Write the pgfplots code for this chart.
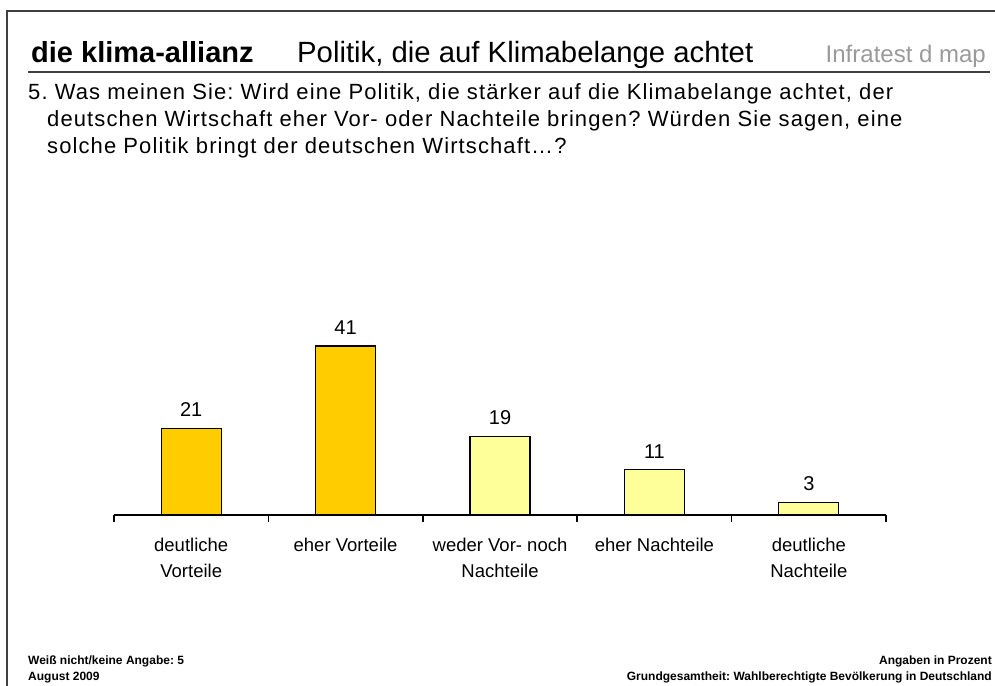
\documentclass[border=0pt]{standalone}
\usepackage{pgfplots}
\pgfplotsset{compat=1.18}
\usepackage{fontspec}
\setmainfont{Liberation Sans}
\frenchspacing
\definecolor{gold}{HTML}{FFCC00}
\definecolor{lightyel}{HTML}{FFFF99}
\definecolor{framegray}{HTML}{404040}
\definecolor{infragray}{HTML}{9A9A9A}
\newfontfamily\qfont[LetterSpace=5]{Liberation Sans}
\pgfplotstableread{
x y
0 21
1 41
}\darkdata
\pgfplotstableread{
x y
2 19
3 11
4 3
}\lightdata
\begin{document}
\begin{tikzpicture}[x=1bp,y=1bp]
\clip (0,0) rectangle (995,686);
\fill[white] (0,0) rectangle (995,686);
% frame
\draw[framegray, line width=2bp] (7,-5) -- (7,675) -- (1000,675);
% header
\node[anchor=base west, inner sep=0, font=\fontsize{29bp}{32bp}\selectfont\bfseries] at (31,623) {die klima-allianz};
\node[anchor=base west, inner sep=0, font=\fontsize{29.3bp}{32bp}\selectfont] at (297,623) {Politik, die auf Klimabelange achtet};
\node[anchor=base east, inner sep=0, text=infragray, font=\fontsize{24bp}{28bp}\selectfont] at (986,623) {Infratest d map};
\draw[framegray, line width=2bp] (28,614) -- (990,614);
% question
\node[anchor=base west, inner sep=0, font=\fontsize{22bp}{27bp}\qfont] at (28,586) {5. Was meinen Sie: Wird eine Politik, die stärker auf die Klimabelange achtet, der};
\node[anchor=base west, inner sep=0, font=\fontsize{22bp}{27bp}\qfont] at (47,559) {deutschen Wirtschaft eher Vor- oder Nachteile bringen? Würden Sie sagen, eine};
\node[anchor=base west, inner sep=0, font=\fontsize{22bp}{27bp}\qfont] at (47,532) {solche Politik bringt der deutschen Wirtschaft…?};
% footer
\node[anchor=base west, inner sep=0, font=\fontsize{12bp}{13bp}\selectfont\bfseries] at (28,21) {Weiß nicht/keine Angabe: 5};
\node[anchor=base west, inner sep=0, font=\fontsize{12bp}{13bp}\selectfont\bfseries] at (28,5) {August 2009};
\node[anchor=base east, inner sep=0, font=\fontsize{12bp}{13bp}\selectfont\bfseries] at (992,21) {Angaben in Prozent};
\node[anchor=base east, inner sep=0, font=\fontsize{12bp}{13bp}\selectfont\bfseries] at (992,5) {Grundgesamtheit: Wahlberechtigte Bevölkerung in Deutschland};
\begin{axis}[
  at={(114bp,171bp)}, anchor=south west,
  scale only axis, width=772bp, height=206bp,
  xmin=-0.5, xmax=4.5, ymin=0, ymax=50,
  axis x line*=bottom, axis y line=none,
  x axis line style={black, line width=1.5bp},
  xtick={0,1,2,3,4},
  xticklabels={{deutliche\\Vorteile},{eher Vorteile},{weder Vor- noch\\Nachteile},{eher Nachteile},{deutliche\\Nachteile}},
  major tick length=0pt,
  minor xtick={-0.5,0.5,1.5,2.5,3.5,4.5},
  minor tick length=7bp, tick align=outside,
  minor tick style={black, line width=1.5bp},
  xticklabel style={align=center, anchor=north, inner sep=0pt, yshift=-23bp,
     font=\fontsize{18.5bp}{26bp}\selectfont},
  ytick=\empty,
  /pgf/number format/assume math mode=true,
  ybar, bar width=60bp, bar shift=0pt,
  nodes near coords,
  every node near coord/.append style={font=\fontsize{20bp}{24bp}\selectfont, inner sep=0pt, anchor=south, yshift=11bp},
  clip=false,
]
\addplot[draw=black, line width=1.2bp, fill=gold] table[x=x,y=y] {\darkdata};
\addplot[draw=black, line width=1.2bp, fill=lightyel] table[x=x,y=y] {\lightdata};
\end{axis}
\end{tikzpicture}
\end{document}
